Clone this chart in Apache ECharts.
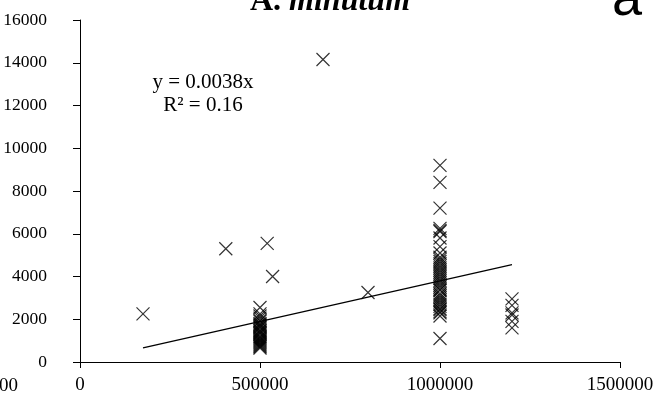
<!DOCTYPE html>
<html>
<head>
<meta charset="utf-8">
<script src="https://cdn.jsdelivr.net/npm/echarts@6/dist/echarts.min.js"></script>
<style>html,body{margin:0;padding:0;background:#fff}#c{width:660px;height:403px}</style>
</head>
<body>
<div id="c"></div>
<script>
// Data
var outlierX = [175000, 405000, 520000, 535000, 675000, 800000];
var outlierY = [2250, 5300, 5550, 4000, 14150, 3250];
var group500X = 500000;
var group500Y = [2550, 2250, 2150, 2050, 1950, 1900, 1800, 1750, 1650, 1600, 1500, 1450, 1350, 1300, 1200, 1150, 1050, 1000, 950, 900, 850, 800, 750, 700, 650, 1700, 1400, 1100];
var group1000X = 1000000;
var group1000Y = [9200, 8400, 7200, 6250, 6150, 6100, 5800, 5400, 5100, 4900, 4800, 4700, 4600, 4500, 4400, 4300, 4200, 4100, 4000, 3900, 3800, 3700, 3600, 3500, 3400, 3350, 3200, 3100, 3000, 2900, 2800, 2700, 2600, 2500, 2450, 2350, 2300, 2150, 1100];
var group1200X = 1200000;
var group1200Y = [2950, 2650, 2300, 2200, 1900, 1600];
var trendX = [175000, 1200000];
var trendY = [665, 4560];
var xTicks = [0, 500000, 1000000, 1500000];
var yTicks = [0, 2000, 4000, 6000, 8000, 10000, 12000, 14000, 16000];
var titleMain = 'A.';
var titleItalic = 'minutum';
var equationText = 'y = 0.0038x';
var r2Text = 'R² = 0.16';
var panelLabel = 'a';
var clippedLabel = '00';

var pts = [];
outlierX.forEach(function (x, i) { pts.push([x, outlierY[i]]); });
group500Y.forEach(function (y) { pts.push([group500X, y]); });
group1000Y.forEach(function (y) { pts.push([group1000X, y]); });
group1200Y.forEach(function (y) { pts.push([group1200X, y]); });
var trend = trendX.map(function (x, i) { return [x, trendY[i]]; });

var font = 'Liberation Serif';
var chart = echarts.init(document.getElementById('c'));
chart.setOption({
  animation: false,
  backgroundColor: '#fff',
  grid: { left: 80, right: 40, top: 20, bottom: 41, containLabel: false },
  xAxis: {
    type: 'value', min: 0, max: 1500000, interval: 500000,
    splitLine: { show: false },
    axisLine: { onZero: false, lineStyle: { color: '#000', width: 1 } },
    axisTick: { show: true, inside: false, length: 6, lineStyle: { color: '#000' } },
    axisLabel: { color: '#000', fontFamily: font, fontSize: 19, margin: 14,
      formatter: function (v) { return xTicks.indexOf(v) >= 0 ? String(v) : ''; } }
  },
  yAxis: {
    type: 'value', min: 0, max: 16000, interval: 2000,
    splitLine: { show: false },
    axisLine: { show: true, lineStyle: { color: '#000', width: 1 } },
    axisTick: { show: true, inside: false, length: 7, lineStyle: { color: '#000' } },
    axisLabel: { color: '#000', fontFamily: font, fontSize: 17.5, margin: 33,
      formatter: function (v) { return yTicks.indexOf(v) >= 0 ? String(v) : ''; } }
  },
  series: [
    {
      type: 'line', data: trend, showSymbol: false, symbol: 'none',
      lineStyle: { color: '#000', width: 1.3 }, z: 2
    },
    {
      type: 'scatter', data: pts,
      symbol: 'path://M0,0L10,10M0,10L10,0', symbolSize: 13,
      itemStyle: { color: 'none', borderColor: '#000', borderWidth: 1.2 }, z: 3
    }
  ],
  graphic: [
    { type: 'text', x: 330, y: -14, z: 10,
      style: { text: '{a|' + titleMain + '\u00a0}{b|' + titleItalic + '}', align: 'center', rich: {
        a: { fontFamily: font, fontWeight: 'bold', fontSize: 32, fill: '#000' },
        b: { fontFamily: font, fontWeight: 'bold', fontStyle: 'italic', fontSize: 32, fill: '#000' } } } },
    { type: 'text', x: 612, y: -27, z: 10,
      style: { text: panelLabel, fontFamily: 'Liberation Sans', fontSize: 54, fill: '#000' } },
    { type: 'text', x: 203, y: 82, z: 10,
      style: { text: equationText, fontFamily: font, fontSize: 21, fill: '#000', align: 'center', verticalAlign: 'middle' } },
    { type: 'text', x: 203, y: 105, z: 10,
      style: { text: r2Text, fontFamily: font, fontSize: 21, fill: '#000', align: 'center', verticalAlign: 'middle' } },
    { type: 'text', x: -1, y: 386, z: 10,
      style: { text: clippedLabel, fontFamily: font, fontSize: 19, fill: '#000', align: 'left', verticalAlign: 'middle' } }
  ]
});
</script>
</body>
</html>
